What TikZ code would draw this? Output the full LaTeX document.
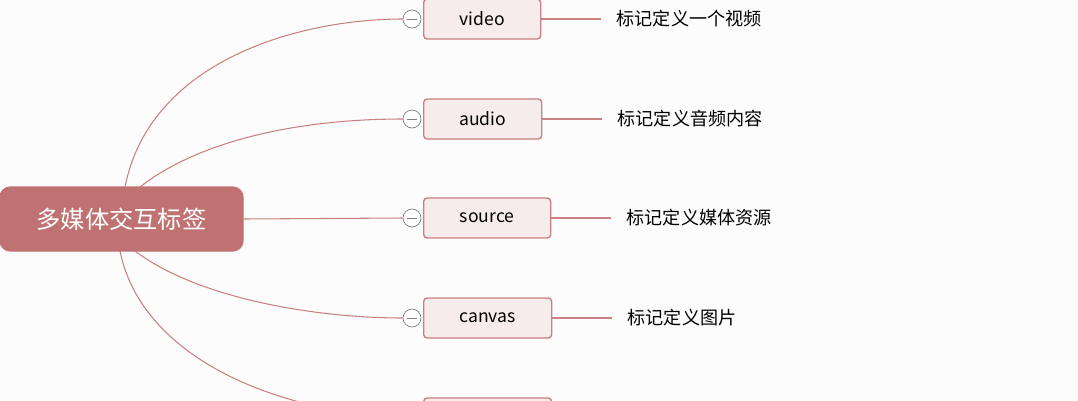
\documentclass[tikz,border=0pt]{standalone}
\usepackage{fontspec}
\setmainfont{Noto Sans CJK SC}
\definecolor{couleurroot}{HTML}{C07272}
\definecolor{couleurline}{HTML}{C98080}
\definecolor{couleurback}{HTML}{F7ECEC}
\definecolor{couleurfond}{HTML}{FCFCFC}
\tikzset{
		basic/.style={draw=couleurline, rounded corners=2pt, thick, minimum height=40*0.02cm, align=center, inner sep=0pt},
		racine/.style={basic, fill=couleurroot, draw=couleurroot, rounded corners=6pt, text=white, minimum width=243*0.02cm, minimum height=64*0.02cm, font=\fontsize{13.8}{14}\selectfont},
		enfant/.style={basic, fill=couleurback, font=\fontsize{10}{10}\selectfont},
		texte/.style={anchor=west, inner sep=0pt, font=\fontsize{10.3}{11}\selectfont},
		lien/.style={couleurline, semithick},
		pli/.style={circle, draw=gray, fill=white, minimum size=18*0.02cm, inner sep=0pt}
	}
\begin{document}
\begin{tikzpicture}[x=0.02cm, y=-0.02cm]
		\clip (0,0) rectangle (1078,400);
		\fill[couleurfond] (0,0) rectangle (1078,400);
		% racine
		\node[racine](multimed) at (121.5,219){多媒体交互标签};
		% enfants
		\foreach \nom/\txt/\cy/\w/\desc in {video/video/19/117/标记定义一个视频, audio/audio/119/118/标记定义音频内容, source/source/218/127/标记定义媒体资源, canvas/canvas/318/128/标记定义图片, autre//418/128/} {
			\node[enfant, minimum width=\w*0.02cm, anchor=west](\nom) at (423,\cy){\txt};
			\node[pli](\nom pli) at (412,\cy){};
			\draw[gray] ([xshift=-5*0.02cm]\nom pli.center) -- ([xshift=5*0.02cm]\nom pli.center);
			\coordinate (\nom fin) at ([xshift=60*0.02cm]\nom.east);
			\draw[lien] (\nom.east) -- (\nom fin);
			\node[texte](\nom desc) at ([xshift=15*0.02cm]\nom fin){\desc};
		}
		% liens
		\draw[lien] (125,187) .. controls (150,60) and (300,19) .. (videopli.west);
		\draw[lien] (140,187) .. controls (200,140) and (300,119) .. (audiopli.west);
		\draw[lien] (multimed.east) -- (sourcepli.west);
		\draw[lien] (135,251) .. controls (200,300) and (320,318) .. (canvaspli.west);
		\draw[lien] (120,251) .. controls (140,350) and (260,410) .. (autrepli.west);
	\end{tikzpicture}
\end{document}
